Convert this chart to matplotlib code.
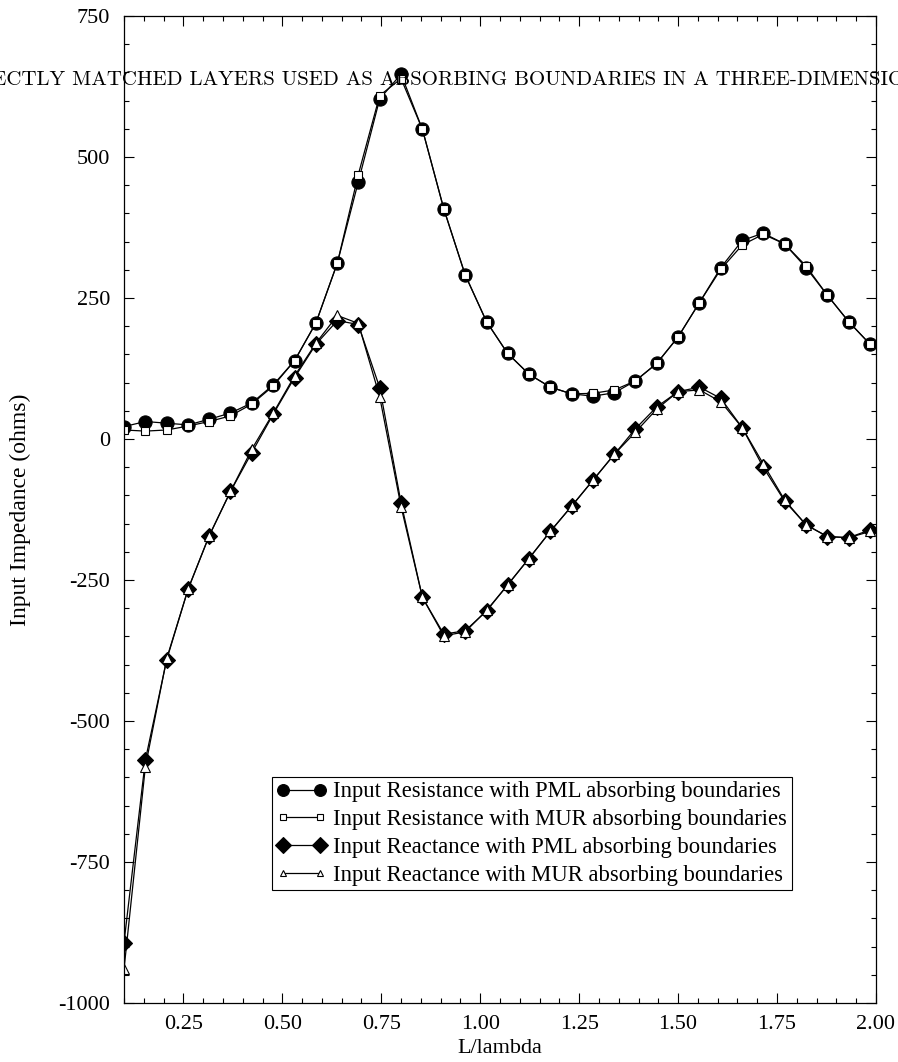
import matplotlib
matplotlib.use("Agg")
import matplotlib.pyplot as plt
from matplotlib.ticker import MultipleLocator, FormatStrFormatter

plt.rcParams['font.family'] = ['Liberation Serif', 'DejaVu Serif']
plt.rcParams['axes.unicode_minus'] = False

# L/lambda sample points
l_lambda = [0.100, 0.154, 0.208, 0.262, 0.315, 0.369, 0.423, 0.477, 0.531,
            0.585, 0.639, 0.692, 0.746, 0.800, 0.854, 0.908, 0.962, 1.016,
            1.069, 1.123, 1.177, 1.231, 1.285, 1.339, 1.392, 1.446, 1.500,
            1.554, 1.608, 1.662, 1.715, 1.769, 1.823, 1.877, 1.931, 1.985]

# input resistance (ohms)
r_pml = [22, 31, 28, 25, 35, 46, 64, 96, 139, 206, 312, 456, 603, 647, 549, 408,
         291, 208, 152, 115, 92, 80, 76, 82, 103, 134, 181, 242, 304, 352, 365,
         346, 304, 255, 208, 168]
r_mur = [16, 14, 16, 23, 31, 41, 62, 94, 139, 206, 312, 469, 609, 639, 549, 408,
         291, 208, 152, 115, 92, 80, 81, 87, 103, 134, 181, 242, 301, 344, 363,
         346, 307, 255, 208, 168]

# input reactance (ohms)
x_pml = [-893, -569, -391, -266, -172, -93, -24, 44, 109, 168, 210, 203, 91,
         -113, -281, -346, -340, -305, -259, -212, -164, -119, -73, -27, 18, 57,
         84, 92, 72, 20, -50, -110, -152, -173, -175, -161]
x_mur = [-940, -581, -389, -266, -172, -93, -18, 46, 112, 170, 219, 205, 75,
         -120, -281, -349, -342, -304, -259, -212, -164, -119, -73, -27, 12, 53,
         84, 87, 66, 20, -44, -108, -152, -173, -175, -164]

labels = ['Input Resistance with PML absorbing boundaries',
          'Input Resistance with MUR absorbing boundaries',
          'Input Reactance with PML absorbing boundaries',
          'Input Reactance with MUR absorbing boundaries']

title = 'PERFECTLY MATCHED LAYERS USED AS ABSORBING BOUNDARIES IN A THREE-DIMENSIONAL FDTD CODE'

fig = plt.figure(figsize=(8.98, 10.62), dpi=100)
ax = fig.add_axes([0.1381, 0.0556, 0.8374, 0.9293])

lw = 0.9
ax.plot(l_lambda, r_pml, color='k', lw=lw, marker='o', ms=9.5,
        mfc='k', mec='k', mew=0.8, label=labels[0])
ax.plot(l_lambda, r_mur, color='k', lw=lw, marker='s', ms=6.3,
        mfc='white', mec='k', mew=0.8, label=labels[1])
ax.plot(l_lambda, x_pml, color='k', lw=lw, marker='D', ms=8.3,
        mfc='k', mec='k', mew=0.8, label=labels[2])
ax.plot(l_lambda, x_mur, color='k', lw=lw, marker='^', ms=7.5,
        mfc='white', mec='k', mew=0.8, label=labels[3])

ax.set_xlim(0.1, 2.0)
ax.set_ylim(-1000, 750)
ax.xaxis.set_major_locator(MultipleLocator(0.25))
ax.xaxis.set_minor_locator(MultipleLocator(0.05))
ax.xaxis.set_major_formatter(FormatStrFormatter('%.2f'))
ax.yaxis.set_major_locator(MultipleLocator(250))
ax.yaxis.set_minor_locator(MultipleLocator(50))
ax.yaxis.set_major_formatter(FormatStrFormatter('%d'))

ax.tick_params(which='both', direction='in', top=True, right=True,
               labelsize=16, width=0.8, color='k')
ax.tick_params(which='major', length=7.5)
ax.tick_params(which='minor', length=3.8)
ax.tick_params(axis='x', pad=9)
ax.tick_params(axis='y', pad=10)
for s in ax.spines.values():
    s.set_linewidth(0.9)

ax.set_xlabel('L/lambda', fontsize=16, labelpad=3)
ax.set_ylabel('Input Impedance (ohms)', fontsize=17)
ax.yaxis.set_label_coords(-0.124, 0.5)

leg = ax.legend(loc='upper left', bbox_to_anchor=(0.197, 0.229),
                borderaxespad=0, fontsize=16.3, numpoints=2, handlelength=2.2,
                handletextpad=0.3, labelspacing=0.3, borderpad=0.2,
                fancybox=False, framealpha=1, edgecolor='k')
leg.get_frame().set_linewidth(0.8)
legend_sizes = [8.5, 4.5, 8.5, 5.0]
for h, sz in zip(leg.legend_handles, legend_sizes):
    h.set_markersize(sz)

fig.text(-0.072, 0.9247, title, fontsize=15, va='center', ha='left',
         family=['cmr10', 'DejaVu Serif'])

fig.savefig('out.png', dpi=100)
